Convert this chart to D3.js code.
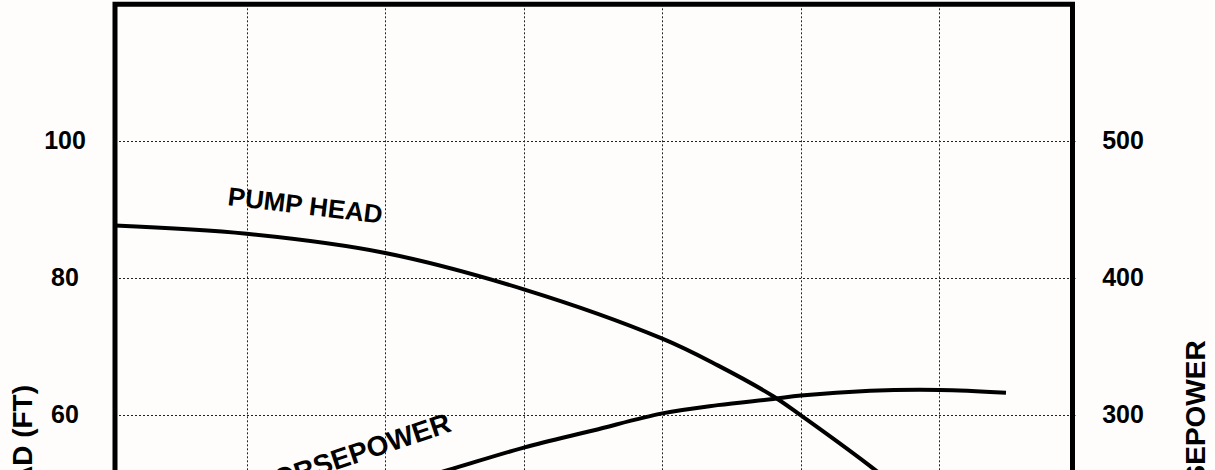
<!DOCTYPE html>
<html>
<head>
<meta charset="utf-8">
<script src="https://cdn.jsdelivr.net/npm/d3@7"></script>
<style>
  html, body { margin: 0; padding: 0; background: #fefdfb; overflow: hidden; }
  svg { display: block; }
  text { font-family: "Liberation Sans", Arial, sans-serif; font-weight: bold; fill: #000; }
</style>
</head>
<body>
<script>
// ---- data (flow in arbitrary units; head in ft; horsepower) ----
const headFlow  = [0.05, 1.0, 2.0, 3.0, 4.0, 4.4, 4.8, 5.0, 5.5, 5.6];
const headValue = [87.7, 86.5, 83.7, 78.4, 71.2, 67.3, 62.8, 60.0, 52.6, 51.0];
const hpFlow    = [2.0, 2.45, 3.0, 3.5, 4.0, 4.4, 4.8, 5.0, 5.5, 6.0, 6.48];
const hpValue   = [247, 260, 276.5, 289, 301.5, 307.5, 312, 314.5, 318, 318.6, 316.6];
const headTicks = [60, 80, 100];
const hpTicks   = [300, 400, 500];
const headGrid  = [20, 40, 60, 80, 100];
const flowGrid  = [1, 2, 3, 4, 5, 6];
const leftTitle  = "HEAD (FT)";
const rightTitle = "HORSEPOWER";
const headLabel  = "PUMP HEAD";
const hpLabel    = "HORSEPOWER";

const W = 1215, H = 470;
const m = { left: 115, right: 1072.5, top: 4.3, bottom: 826.5 };

const svg = d3.select("body").append("svg").attr("width", W).attr("height", H);

const x = d3.scaleLinear().domain([0.05, 6.96]).range([m.left, m.right]);
const yHead = d3.scaleLinear().domain([0, 120]).range([m.bottom, m.top]);
const yHp = d3.scaleLinear().domain([0, 600]).range([m.bottom, m.top]);

// gridlines
const grid = svg.append("g").attr("stroke", "#222").attr("stroke-width", 1).attr("stroke-dasharray", "2,2");
grid.selectAll("line.v").data(flowGrid).join("line")
  .attr("x1", d => Math.round(x(d)) + 0.5).attr("x2", d => Math.round(x(d)) + 0.5)
  .attr("y1", m.top).attr("y2", m.bottom);
grid.selectAll("line.h").data(headGrid).join("line")
  .attr("x1", m.left).attr("x2", m.right + 3)
  .attr("y1", d => Math.round(yHead(d)) + 0.5).attr("y2", d => Math.round(yHead(d)) + 0.5);

// axes tick labels
const leftAxis = d3.axisLeft(yHead).tickValues(headTicks).tickSize(0).tickPadding(0);
const gl = svg.append("g").attr("transform", `translate(65,0)`).call(leftAxis);
gl.select(".domain").remove();
gl.selectAll("text").attr("text-anchor", "middle").attr("dy", "0.28em")
  .style("font-size", "25px").style("font-family", '"Liberation Sans", Arial, sans-serif').style("font-weight", "bold").attr("fill", "#000");

const rightAxis = d3.axisRight(yHp).tickValues(hpTicks).tickSize(0).tickPadding(0);
const gr = svg.append("g").attr("transform", `translate(1123,0)`).call(rightAxis);
gr.select(".domain").remove();
gr.selectAll("text").attr("text-anchor", "middle").attr("dy", "0.28em")
  .style("font-size", "25px").style("font-family", '"Liberation Sans", Arial, sans-serif').style("font-weight", "bold").attr("fill", "#000");

// axis titles
svg.append("text").attr("transform", "translate(32,455) rotate(-90)")
  .attr("text-anchor", "middle").style("font-size", "28px").text(leftTitle);
svg.append("text").attr("transform", "translate(1205,443) rotate(-90)")
  .attr("text-anchor", "middle").style("font-size", "28px").text(rightTitle);

// curves
const headLine = d3.line().x(d => x(d[0])).y(d => yHead(d[1])).curve(d3.curveCatmullRom);
const hpLine = d3.line().x(d => x(d[0])).y(d => yHp(d[1])).curve(d3.curveCatmullRom);
svg.append("path").datum(d3.zip(headFlow, headValue)).attr("d", headLine)
  .attr("fill", "none").attr("stroke", "#000").attr("stroke-width", 4);
svg.append("path").datum(d3.zip(hpFlow, hpValue)).attr("d", hpLine)
  .attr("fill", "none").attr("stroke", "#000").attr("stroke-width", 4);

// curve labels
svg.append("text").attr("transform", "translate(227,205) rotate(6.8)")
  .style("font-size", "26px").text(headLabel);
svg.append("text").attr("transform", "translate(258,496) rotate(-18.5)")
  .style("font-size", "28px").text(hpLabel);

// frame
svg.append("path")
  .attr("d", `M${m.left},${H + 10} L${m.left},${m.top} L${m.right},${m.top} L${m.right},${H + 10}`)
  .attr("fill", "none").attr("stroke", "#000").attr("stroke-width", 5);
</script>
</body>
</html>
